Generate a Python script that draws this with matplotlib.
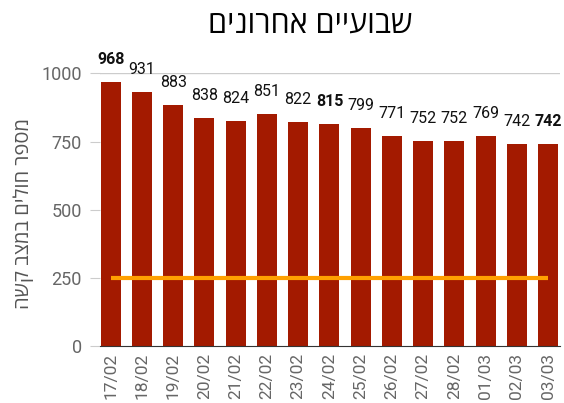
import matplotlib.pyplot as plt
import numpy as np

dates = ["17/02", "18/02", "19/02", "20/02", "21/02", "22/02", "23/02", "24/02",
         "25/02", "26/02", "27/02", "28/02", "01/03", "02/03", "03/03"]
values = [968, 931, 883, 838, 824, 851, 822, 815, 799, 771, 752, 752, 769, 742, 742]
bold_idx = [0, 7, 14]
target = 250

title = "שבועיים אחרונים"
ylabel = "מספר חולים במצב קשה"

plt.rcParams["font.family"] = ["Roboto", "DejaVu Sans"]

fig = plt.figure(figsize=(5.64, 4.03), dpi=100)
ax = fig.add_axes([0.177, 0.141, 0.816, 0.677])

x = np.arange(len(values))
ax.bar(x, values, width=0.64, color="#a31a00", zorder=2)
ax.plot([x[0], x[-1]], [target, target], color="#ffa000", lw=3, zorder=3,
        solid_capstyle="butt")

for i, v in enumerate(values):
    ax.text(i, v + 55, str(v), ha="center", va="bottom", fontsize=11.5,
            fontweight="bold" if i in bold_idx else "normal", color="#111111")

ax.set_xlim(-0.35, 14.38)
ax.set_ylim(0, 1000)
ax.set_yticks([0, 250, 500, 750, 1000])
ax.axhline(1000, color="#cccccc", lw=1, zorder=1)
ax.set_xticks(x)
ax.set_xticklabels(dates, rotation=90)
ax.tick_params(axis="y", length=7, color="#cccccc", labelcolor="#666666",
               labelsize=13, pad=6)
ax.tick_params(axis="x", length=0, labelcolor="#666666", labelsize=12.5, pad=5)
for s in ["top", "right", "left"]:
    ax.spines[s].set_visible(False)
ax.spines["bottom"].set_color("#333333")

fig.text(0.55, 0.94, title[::-1], ha="center", va="center", fontsize=22,
         family=["Open Sans", "DejaVu Sans"])
fig.text(0.042, 0.47, ylabel[::-1], rotation=90, ha="center", va="center",
         fontsize=14.5, color="#555555", family=["Open Sans", "DejaVu Sans"])

fig.savefig("out.png", dpi=100)
